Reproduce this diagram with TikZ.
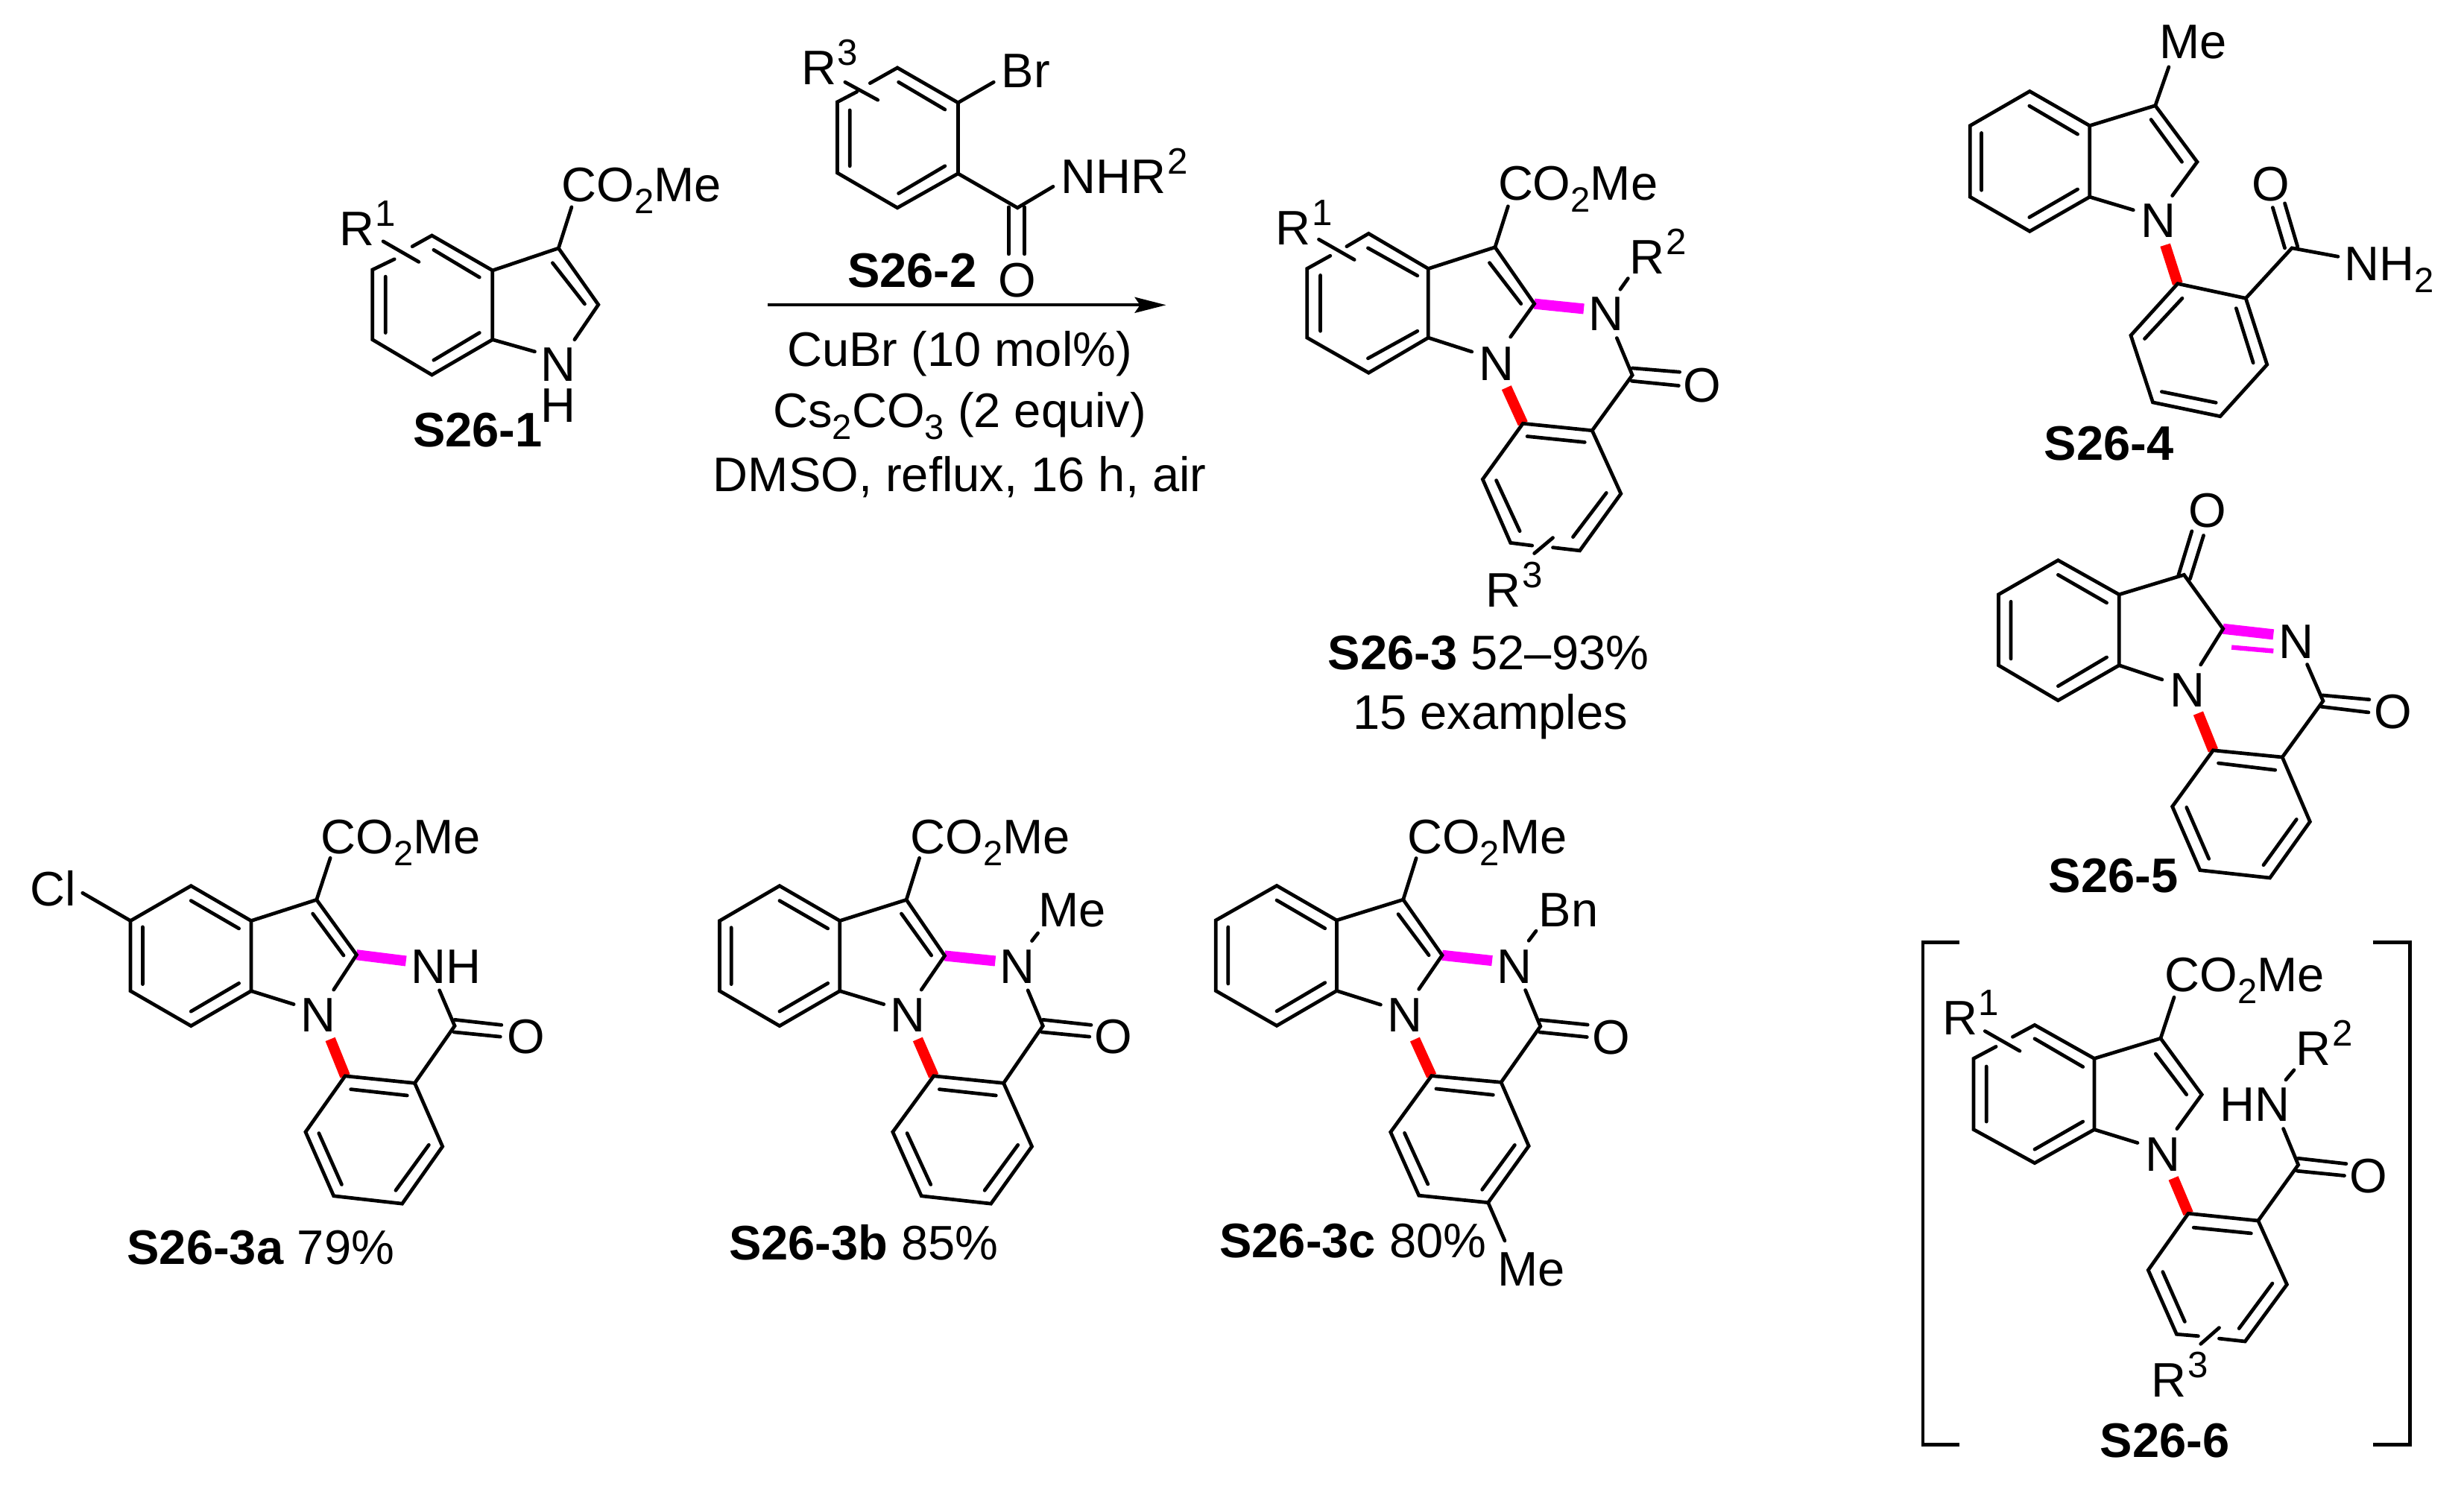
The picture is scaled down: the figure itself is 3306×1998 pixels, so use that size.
\documentclass[tikz,border=0pt]{standalone}
\usepackage{fontspec}
\setmainfont{Liberation Sans}
\usetikzlibrary{arrows.meta}
\definecolor{magx}{RGB}{255,0,255}
\definecolor{redx}{RGB}{255,0,0}
\newcommand\chsub[1]{\raisebox{-0.16cm}{\fontsize{13.4}{14}\selectfont #1}}
\newcommand\chsup[1]{\kern0.5pt\raisebox{0.26cm}{\fontsize{14}{14}\selectfont #1}}
\tikzset{
  bond/.style={line width=1.35pt,line cap=round,line join=miter,black},
  rxn/.style={line width=1.2pt,black,-{Stealth[length=0.42cm,width=0.21cm,inset=0.07cm]}},
  redbond/.style={line width=4pt,redx},
  magbond/.style={line width=4pt,magx},
  magthin/.style={line width=1.8pt,magx},
  chem/.style={anchor=base west,inner sep=0pt,outer sep=0pt,xshift=-0.03cm,yshift=-0.02cm,font=\fontsize{18.5}{22}\selectfont},
  cen/.style={anchor=base,inner sep=0pt,outer sep=0pt,yshift=-0.02cm,font=\fontsize{18.5}{22}\selectfont},
  zoomed/.style n args={4}{shift={(#1,#2)},x=1cm/(100*#3),y=-1cm/(100*#4)}
}
\begin{document}
\begin{tikzpicture}[x=0.01cm,y=-0.01cm]
\useasboundingbox (0,0) rectangle (3306,1998);

% ---- S26-1 and S26-2, reaction
\begin{scope}[zoomed={400}{0}{1.2544}{2.178}]
\path (225,688) coordinate (a1) (327,790) coordinate (a2) (327,992) coordinate (a3) (225,1095) coordinate (a4) (125,992) coordinate (a5) (125,788) coordinate (a6)
      (162,757) coordinate (a7) (192,720) coordinate (a8) (438,725) coordinate (a9) (505,890) coordinate (a10) (465,992) coordinate (a11) (398,1027) coordinate (a12)
      (460,605) coordinate (a13) (143,705) coordinate (a14) (203,765) coordinate (a15);
\draw[bond] (a8)--(a1)--(a2)--(a3)--(a4)--(a5)--(a6)--(a7);
\draw[bond] (a14)--(a15);
\draw[bond] (a2)--(a9)--(a10)--(a11);
\draw[bond] (a3)--(a12);
\draw[bond] (a9)--(a13);
\draw[bond] (228,730)--(305,810) (147,808)--(147,972) (228,1052)--(305,972) (428,768)--(482,888);
\node[chem] (a20) at (447,585) {CO\chsub{2}Me};
\node[chem] (a21) at (73,712) {R\chsup{1}};
\node[cen] (a22) at (437,1110) {N};
\node[cen] (a23) at (437,1228) {H};
\node[chem] (a24) at (197,1300) {\textbf{S26-1}};
% S26-2
\path (1008,198) coordinate (b1) (1110,300) coordinate (b2) (1110,507) coordinate (b3) (1008,607) coordinate (b4) (907,505) coordinate (b5) (907,298) coordinate (b6)
      (940,268) coordinate (b7) (962,243) coordinate (b8) (920,240) coordinate (b9) (975,292) coordinate (b10) (1170,240) coordinate (b11) (1210,607) coordinate (b12)
      (1270,545) coordinate (b13);
\draw[bond] (b8)--(b1)--(b2)--(b3)--(b4)--(b5)--(b6)--(b7);
\draw[bond] (b9)--(b10);
\draw[bond] (b2)--(b11);
\draw[bond] (b3)--(b12)--(b13);
\draw[bond] (1195,605)--(1195,742) (1222,605)--(1222,742);
\draw[bond] (1010,240)--(1088,320) (928,322)--(928,485) (1010,565)--(1088,485);
\node[chem] (b20) at (1187,252) {Br};
\node[chem] (b21) at (1287,560) {NHR\chsup{2}};
\node[chem] (b22) at (850,243) {R\chsup{3}};
\node[cen] (b23) at (1210,863) {O};
\node[chem] (b24) at (928,835) {\textbf{S26-2}};
\coordinate (arrowa) at (790,891);
\coordinate (arrowb) at (1460,891);
\draw[rxn] (arrowa)--(arrowb);
\node[cen] (c1) at (1113,1065) {CuBr (10 mol\%)};
\node[cen] (c2) at (1113,1245) {Cs\chsub{2}CO\chsub{3} (2 equiv)};
\node[cen] (c3) at (1113,1432) {DMSO, reflux, 16 h, air};
\end{scope}

% ---- S26-3
\begin{scope}[zoomed={1650}{180}{2.412}{1.912}]
\path (449,255) coordinate (d1) (642,345) coordinate (d2) (642,522) coordinate (d3) (449,612) coordinate (d4) (250,522) coordinate (d5) (250,345) coordinate (d6)
 (325,312) coordinate (d7) (378,288) coordinate (d8) (288,270) coordinate (d9) (403,322) coordinate (d10) (858,290) coordinate (d11) (985,435) coordinate (d12)
 (908,520) coordinate (d13) (783,558) coordinate (d14) (900,185) coordinate (d15) (1145,448) coordinate (d16) (1263,398) coordinate (d17) (1288,370) coordinate (d18)
 (1252,523) coordinate (d19) (1302,618) coordinate (d20) (1172,760) coordinate (d21) (948,742) coordinate (d22) (1265,922) coordinate (d23) (1132,1068) coordinate (d24)
 (908,1048) coordinate (d25) (818,885) coordinate (d26) (978,1055) coordinate (d27) (1045,1060) coordinate (d28) (985,1075) coordinate (d29) (1045,1035) coordinate (d30)
 (895,650) coordinate (d31);
\draw[redbond] (d31)--(d22);
\draw[magbond] (d12)--(d16);
\draw[bond] (d8)--(d1)--(d2)--(d3)--(d4)--(d5)--(d6)--(d7);
\draw[bond] (d9)--(d10);
\draw[bond] (d2)--(d11)--(d12)--(d13);
\draw[bond] (d3)--(d14);
\draw[bond] (d11)--(d15);
\draw[bond] (d17)--(d18);
\draw[bond] (d19)--(d20)--(d21)--(d23)--(d24)--(d28);
\draw[bond] (d27)--(d25)--(d26)--(d22)--(d21);
\draw[bond] (d29)--(d30);
\draw[bond] (447,292)--(607,363) (293,362)--(293,505) (447,575)--(607,505) (840,330)--(942,435)
  (1302,600)--(1455,610) (1300,633)--(1452,645) (962,775)--(1148,790) (1218,920)--(1110,1033) (862,888)--(938,1018);
\node[chem] (d40) at (875,165) {CO\chsub{2}Me};
\node[chem] (d41) at (155,280) {R\chsup{1}};
\node[chem] (d42) at (1168,500) {N};
\node[chem] (d43) at (1300,355) {R\chsup{2}};
\node[chem] (d44) at (1473,683) {O};
\node[chem] (d45) at (813,627) {N};
\node[chem] (d46) at (835,1208) {R\chsup{3}};
\node[chem] (d47) at (325,1370) {\textbf{S26-3} 52--93\%};
\node[chem] (d48) at (405,1522) {15 examples};
\end{scope}

% ---- S26-4
\begin{scope}[zoomed={2560}{0}{2.102}{2.45}]
\path (343,300) coordinate (e1) (512,413) coordinate (e2) (512,647) coordinate (e3) (343,760) coordinate (e4) (175,647) coordinate (e5) (175,413) coordinate (e6)
 (697,347) coordinate (e7) (815,532) coordinate (e8) (745,643) coordinate (e9) (635,690) coordinate (e10) (735,220) coordinate (e11) (725,805) coordinate (e12)
 (760,932) coordinate (e13) (952,980) coordinate (e14) (1012,1198) coordinate (e15) (880,1368) coordinate (e16) (690,1322) coordinate (e17) (628,1102) coordinate (e18)
 (1082,815) coordinate (e19) (1212,843) coordinate (e20);
\draw[redbond] (e12)--(e13);
\draw[bond] (e1)--(e2)--(e3)--(e4)--(e5)--(e6)--cycle;
\draw[bond] (e2)--(e7)--(e8)--(e9);
\draw[bond] (e3)--(e10);
\draw[bond] (e7)--(e11);
\draw[bond] (e13)--(e14)--(e15)--(e16)--(e17)--(e18)--cycle;
\draw[bond] (e14)--(e19)--(e20);
\draw[bond] (1062,815)--(1028,682) (1098,810)--(1062,668);
\draw[bond] (342,348)--(478,441) (207,437)--(207,625) (342,714)--(478,622) (685,393)--(772,532)
  (925,1013)--(973,1192) (868,1323)--(715,1287) (667,1113)--(773,980);
\node[chem] (e30) at (715,188) {Me};
\node[chem] (e31) at (662,776) {N};
\node[chem] (e32) at (975,655) {O};
\node[chem] (e33) at (1237,918) {NH\chsub{2}};
\node[chem] (e34) at (390,1508) {\textbf{S26-4}};
\end{scope}

% ---- S26-5
\begin{scope}[zoomed={2560}{640}{2.102}{2.613}]
\path (423,292) coordinate (f1) (595,412) coordinate (f2) (595,660) coordinate (f3) (423,783) coordinate (f4) (255,660) coordinate (f5) (255,412) coordinate (f6)
 (778,343) coordinate (f7) (888,532) coordinate (f8) (825,658) coordinate (f9) (716,710) coordinate (f10) (1030,552) coordinate (f11) (912,597) coordinate (f12) (1030,610) coordinate (f13)
 (1125,657) coordinate (f14) (1170,785) coordinate (f15) (1055,982) coordinate (f16) (860,958) coordinate (f17) (1133,1208) coordinate (f18) (1020,1405) coordinate (f19)
 (823,1378) coordinate (f20) (745,1155) coordinate (f21) (818,828) coordinate (f22);
\draw[redbond] (f22)--(f17);
\draw[magbond] (f8)--(f11);
\draw[magthin] (f12)--(f13);
\draw[bond] (f1)--(f2)--(f3)--(f4)--(f5)--(f6)--cycle;
\draw[bond] (f2)--(f7)--(f8)--(f9);
\draw[bond] (f3)--(f10);
\draw[bond] (f14)--(f15)--(f16);
\draw[bond] (f17)--(f16)--(f18)--(f19)--(f20)--(f21)--cycle;
\draw[bond] (762,345)--(800,190) (795,357)--(833,205) (1168,765)--(1300,780) (1165,805)--(1298,825);
\draw[bond] (423,343)--(560,441) (290,437)--(290,637) (423,733)--(560,632)
  (875,1003)--(1035,1027) (1095,1200)--(1002,1360) (785,1158)--(848,1338);
\node[chem] (f30) at (797,172) {O};
\node[chem] (f31) at (1052,630) {N};
\node[chem] (f32) at (745,800) {N};
\node[chem] (f33) at (1320,877) {O};
\node[chem] (f34) at (403,1452) {\textbf{S26-5}};
\end{scope}

% ---- S26-6
\begin{scope}[zoomed={2560}{1240}{2.102}{2.069}]
\path (145,50) coordinate (g50) (42,50) coordinate (g51) (42,1445) coordinate (g52) (145,1445) coordinate (g53)
      (1310,50) coordinate (g54) (1415,50) coordinate (g55) (1415,1445) coordinate (g56) (1310,1445) coordinate (g57);
\draw[bond,line cap=butt] (g50)--(g51)--(g52)--(g53);
\draw[bond,line cap=butt] (g54)--(g55)--(g56)--(g57);
\path (357,280) coordinate (g1) (525,373) coordinate (g2) (525,570) coordinate (g3) (357,663) coordinate (g4) (185,570) coordinate (g5) (185,373) coordinate (g6)
 (248,340) coordinate (g7) (295,313) coordinate (g8) (217,297) coordinate (g9) (315,352) coordinate (g10) (712,317) coordinate (g11) (828,473) coordinate (g12)
 (758,568) coordinate (g13) (647,607) coordinate (g14) (750,203) coordinate (g15) (1065,432) coordinate (g16) (1088,405) coordinate (g17) (1058,568) coordinate (g18)
 (1100,668) coordinate (g19) (987,823) coordinate (g20) (790,803) coordinate (g21) (1068,1000) coordinate (g22) (950,1158) coordinate (g23) (877,1150) coordinate (g24)
 (818,1143) coordinate (g25) (757,1138) coordinate (g26) (677,960) coordinate (g27) (825,1165) coordinate (g28) (877,1120) coordinate (g29) (748,705) coordinate (g30);
\draw[redbond] (g30)--(g21);
\draw[bond] (g8)--(g1)--(g2)--(g3)--(g4)--(g5)--(g6)--(g7);
\draw[bond] (g9)--(g10);
\draw[bond] (g2)--(g11)--(g12)--(g13);
\draw[bond] (g3)--(g14);
\draw[bond] (g11)--(g15);
\draw[bond] (g16)--(g17);
\draw[bond] (g18)--(g19)--(g20)--(g22)--(g23)--(g24);
\draw[bond] (g25)--(g26)--(g27)--(g21)--(g20);
\draw[bond] (g28)--(g29);
\draw[bond] (1100,650)--(1235,665) (1097,685)--(1230,698);
\draw[bond] (357,318)--(493,396) (221,395)--(221,548) (357,625)--(493,548) (698,360)--(785,473)
  (805,842)--(967,858) (1027,997)--(933,1122) (718,965)--(780,1103);
\node[chem] (g40) at (730,183) {CO\chsub{2}Me};
\node[chem] (g41) at (103,303) {R\chsup{1}};
\node[chem] (g42) at (675,682) {N};
\node[chem] (g43) at (885,543) {HN};
\node[chem] (g44) at (1100,387) {R\chsup{2}};
\node[chem] (g45) at (1250,742) {O};
\node[chem] (g46) at (692,1308) {R\chsup{3}};
\node[chem] (g47) at (548,1475) {\textbf{S26-6}};
\end{scope}

% ---- S26-3a
\begin{scope}[zoomed={0}{1080}{1.96}{2.412}]
\path (502,262) coordinate (h1) (660,375) coordinate (h2) (660,602) coordinate (h3) (502,715) coordinate (h4) (343,602) coordinate (h5) (343,375) coordinate (h6)
 (217,285) coordinate (h7) (832,307) coordinate (h8) (937,485) coordinate (h9) (877,598) coordinate (h10) (772,645) coordinate (h11) (868,172) coordinate (h12)
 (1067,505) coordinate (h13) (1155,600) coordinate (h14) (1195,715) coordinate (h15) (1090,900) coordinate (h16) (907,877) coordinate (h17) (1163,1105) coordinate (h18)
 (1057,1290) coordinate (h19) (877,1265) coordinate (h20) (803,1058) coordinate (h21) (868,758) coordinate (h22);
\draw[redbond] (h22)--(h17);
\draw[magbond] (h9)--(h13);
\draw[bond] (h1)--(h2)--(h3)--(h4)--(h5)--(h6)--cycle;
\draw[bond] (h6)--(h7);
\draw[bond] (h2)--(h8)--(h9)--(h10);
\draw[bond] (h3)--(h11);
\draw[bond] (h8)--(h12);
\draw[bond] (h14)--(h15)--(h16);
\draw[bond] (h17)--(h16)--(h18)--(h19)--(h20)--(h21)--cycle;
\draw[bond] (1195,695)--(1318,712) (1193,735)--(1315,750);
\draw[bond] (502,310)--(628,400) (375,395)--(375,580) (502,668)--(628,577) (822,352)--(903,487)
  (922,920)--(1070,940) (1127,1100)--(1040,1247) (838,1062)--(898,1228);
\node[chem] (h30) at (85,322) {Cl};
\node[chem] (h31) at (850,153) {CO\chsub{2}Me};
\node[chem] (h32) at (1087,572) {NH};
\node[chem] (h33) at (797,730) {N};
\node[chem] (h34) at (1338,800) {O};
\node[chem] (h35) at (340,1482) {\textbf{S26-3a} 79\%};
\end{scope}

% ---- S26-3b
\begin{scope}[zoomed={920}{1080}{2.24}{2.412}]
\path (282,262) coordinate (i1) (463,375) coordinate (i2) (463,602) coordinate (i3) (282,715) coordinate (i4) (102,602) coordinate (i5) (102,375) coordinate (i6)
 (663,307) coordinate (i7) (778,488) coordinate (i8) (708,598) coordinate (i9) (595,645) coordinate (i10) (702,172) coordinate (i11) (930,505) coordinate (i12)
 (1040,440) coordinate (i13) (1058,415) coordinate (i14) (1028,600) coordinate (i15) (1073,715) coordinate (i16) (955,900) coordinate (i17) (745,877) coordinate (i18)
 (1040,1105) coordinate (i19) (917,1290) coordinate (i20) (708,1265) coordinate (i21) (622,1058) coordinate (i22) (697,758) coordinate (i23);
\draw[redbond] (i23)--(i18);
\draw[magbond] (i8)--(i12);
\draw[bond] (i1)--(i2)--(i3)--(i4)--(i5)--(i6)--cycle;
\draw[bond] (i2)--(i7)--(i8)--(i9);
\draw[bond] (i3)--(i10);
\draw[bond] (i7)--(i11);
\draw[bond] (i13)--(i14);
\draw[bond] (i15)--(i16)--(i17);
\draw[bond] (i18)--(i17)--(i19)--(i20)--(i21)--(i22)--cycle;
\draw[bond] (1073,695)--(1218,712) (1070,735)--(1213,750);
\draw[bond] (282,310)--(427,400) (137,397)--(137,580) (282,668)--(427,577) (648,352)--(738,487)
  (762,920)--(932,940) (998,1100)--(898,1247) (665,1062)--(736,1228);
\node[chem] (i30) at (682,153) {CO\chsub{2}Me};
\node[chem] (i31) at (950,572) {N};
\node[chem] (i32) at (1067,390) {Me};
\node[chem] (i33) at (622,730) {N};
\node[chem] (i34) at (1235,800) {O};
\node[chem] (i35) at (137,1468) {\textbf{S26-3b} 85\%};
\end{scope}

% ---- S26-3c
\begin{scope}[zoomed={1600}{1080}{2.24}{2.306}]
\path (253,250) coordinate (j1) (433,357) coordinate (j2) (433,575) coordinate (j3) (253,683) coordinate (j4) (70,575) coordinate (j5) (70,357) coordinate (j6)
 (633,293) coordinate (j7) (750,465) coordinate (j8) (680,570) coordinate (j9) (565,618) coordinate (j10) (672,165) coordinate (j11) (900,482) coordinate (j12)
 (1010,420) coordinate (j13) (1032,390) coordinate (j14) (1000,573) coordinate (j15) (1045,685) coordinate (j16) (927,858) coordinate (j17) (718,838) coordinate (j18)
 (1010,1055) coordinate (j19) (888,1230) coordinate (j20) (680,1208) coordinate (j21) (595,1012) coordinate (j22) (938,1348) coordinate (j23) (668,725) coordinate (j24);
\draw[redbond] (j24)--(j18);
\draw[magbond] (j8)--(j12);
\draw[bond] (j1)--(j2)--(j3)--(j4)--(j5)--(j6)--cycle;
\draw[bond] (j2)--(j7)--(j8)--(j9);
\draw[bond] (j3)--(j10);
\draw[bond] (j7)--(j11);
\draw[bond] (j13)--(j14);
\draw[bond] (j15)--(j16)--(j17);
\draw[bond] (j18)--(j17)--(j19)--(j20)--(j21)--(j22)--cycle;
\draw[bond] (j20)--(j23);
\draw[bond] (1045,665)--(1187,680) (1043,703)--(1185,718);
\draw[bond] (253,295)--(398,382) (107,378)--(107,553) (253,638)--(398,550) (618,338)--(710,465)
  (732,878)--(903,897) (968,1052)--(870,1190) (637,1015)--(707,1173);
\node[chem] (j30) at (652,147) {CO\chsub{2}Me};
\node[chem] (j31) at (922,547) {N};
\node[chem] (j32) at (1047,373) {Bn};
\node[chem] (j33) at (593,698) {N};
\node[chem] (j34) at (1207,767) {O};
\node[chem] (j35) at (923,1483) {Me};
\node[chem] (j36) at (88,1395) {\textbf{S26-3c} 80\%};
\end{scope}
\end{tikzpicture}
\end{document}
